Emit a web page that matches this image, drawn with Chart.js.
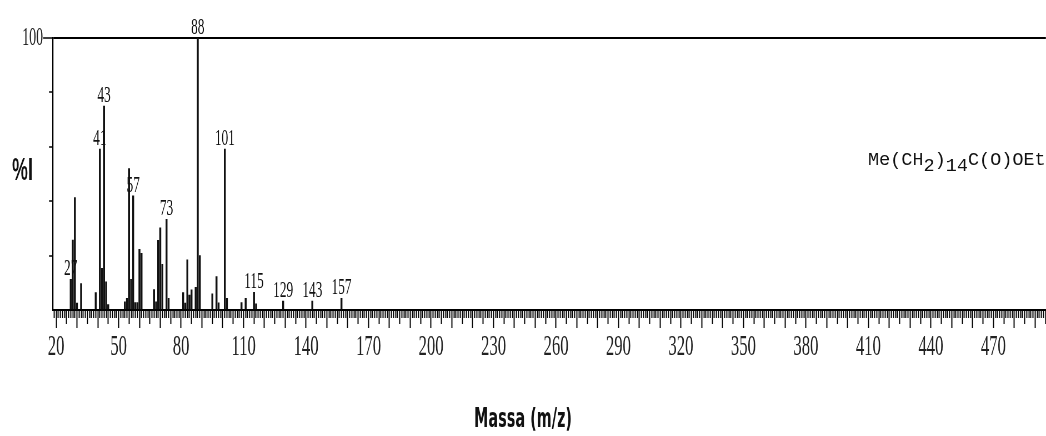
<!DOCTYPE html>
<html lang="pt">
<head>
    <meta charset="UTF-8">
    <title>Espectro de massa</title>
    <script src="https://cdn.jsdelivr.net/npm/chart.js"></script>
    <style>
        body { margin: 0; background: #fff; }
        #spectrum { display: block; }
    </style>
</head>
<body>
    <!-- canvas is drawn wider and squeezed, the scan has narrow fonts -->
    <canvas id="spectrum" width="1883" height="436" style="width:1046px;height:436px"></canvas>

    <script>
        // m/z and relative intensity (%)
        const masses = [27, 28, 29, 30, 32, 39, 41, 42, 43, 44, 45,
                        53, 54, 55, 56, 57, 58, 59, 60, 61,
                        67, 68, 69, 70, 71, 73, 74,
                        81, 82, 83, 84, 85, 87, 88, 89,
                        95, 97, 98, 101, 102, 109, 111, 115, 116,
                        129, 143, 157];
        const intensity = [11.3, 25.7, 41.3, 2.5, 9.7, 6.4, 59.2, 15.3, 75.0, 10.4, 2.0,
                           3.0, 4.3, 52.0, 11.3, 42.0, 2.7, 2.7, 22.3, 20.8,
                           7.5, 3.0, 25.6, 30.2, 16.8, 33.3, 4.3,
                           6.4, 2.5, 18.4, 5.5, 7.4, 8.3, 100, 20.0,
                           5.9, 12.3, 2.6, 59.2, 4.3, 2.7, 4.3, 6.5, 2.3,
                           3.3, 3.3, 4.3];
        const labeledPeaks = [27, 41, 43, 57, 73, 88, 101, 115, 129, 143, 157];
        const formulaParts = [['Me(CH', false], ['2', true], [')', false], ['14', true], ['C(O)OEt', false]];

        const K = 1883 / 1046;   // horizontal squeeze
        const serif = 'Liberation Serif';

        function xTickDash(v) {
            if (v % 10 === 0) return [];
            if (v % 5 === 0) return [13, 100];
            return [7, 100];
        }

        function yTickDash(v) {
            const tl = 18;
            let len = 4 * K;
            if (v === 0) return [0, 100];
            if (v === 100) return [];
            if (v === 50) len = 7 * K;
            return [0, tl - len, len, 100];
        }

        const annotate = {
            id: 'annotate',
            afterDraw(chart) {
                const { ctx, scales: { x, y } } = chart;
                ctx.save();
                ctx.fillStyle = '#111';
                ctx.textAlign = 'center';
                ctx.textBaseline = 'alphabetic';

                // peak labels
                ctx.font = `24px "${serif}"`;
                labeledPeaks.forEach(m => {
                    const v = intensity[masses.indexOf(m)];
                    ctx.fillText(String(m), x.getPixelForValue(m), y.getPixelForValue(v) - 4);
                });

                // y title
                ctx.font = 'bold 32px "Liberation Sans"';
                ctx.fillText('%I', 22.5 * K, 180);

                // compound, unsqueezed
                ctx.translate(868 * K, 165);
                ctx.scale(K, 1);
                ctx.textAlign = 'left';
                ctx.font = '18.5px "Liberation Mono"';
                let cx = 0;
                formulaParts.forEach(([txt, sub]) => {
                    ctx.fillText(txt, cx, sub ? 6 : 0);
                    cx += ctx.measureText(txt).width;
                });
                ctx.restore();
            }
        };

        const ctx = document.getElementById('spectrum').getContext('2d');

        new Chart(ctx, {
            type: 'bar',
            data: {
                datasets: [{
                    data: masses.map((m, i) => ({ x: m, y: intensity[i] })),
                    backgroundColor: '#111',
                    borderWidth: 0,
                    barThickness: 2.8
                }]
            },
            options: {
                responsive: false,
                maintainAspectRatio: false,
                devicePixelRatio: 1,
                animation: false,
                layout: { padding: { top: 38, left: 0, right: 0, bottom: 0 } },
                plugins: {
                    legend: { display: false },
                    tooltip: { enabled: false },
                    title: {
                        display: true,
                        position: 'bottom',
                        text: 'Massa (m/z)',
                        color: '#111',
                        font: { family: 'DejaVu Sans', weight: 'bold', size: 26, lineHeight: 1.2 },
                        padding: { top: 0, bottom: 0 }
                    }
                },
                scales: {
                    x: {
                        type: 'linear',
                        min: 18.5,
                        max: 495.2,
                        offset: false,
                        border: { display: true, color: '#000', width: 2 },
                        grid: {
                            offset: false,
                            drawOnChartArea: false,
                            tickLength: 18,
                            tickColor: '#000',
                            tickWidth: 2,
                            tickBorderDash: c => c.tick ? xTickDash(c.tick.value) : []
                        },
                        ticks: {
                            stepSize: 1,
                            includeBounds: false,
                            autoSkip: false,
                            maxRotation: 0,
                            minRotation: 0,
                            padding: 1,
                            color: '#222',
                            font: { family: serif, size: 30 },
                            callback: v => (v >= 20 && (v - 20) % 30 === 0) ? String(v) : ''
                        },
                        afterFit: s => { s.height = 94.8; }
                    },
                    y: {
                        min: 0,
                        max: 100,
                        border: { display: true, color: '#000', width: 2.2 },
                        grid: {
                            drawOnChartArea: true,
                            color: c => (c.tick && c.tick.value === 100) ? '#000' : 'rgba(0,0,0,0)',
                            lineWidth: 2,
                            tickLength: 18,
                            tickColor: '#000',
                            tickWidth: 1.5,
                            tickBorderDash: c => c.tick ? yTickDash(c.tick.value) : []
                        },
                        ticks: {
                            stepSize: 10,
                            padding: 0,
                            color: '#222',
                            font: { family: serif, size: 25 },
                            callback: v => v === 100 ? '100' : ''
                        },
                        afterFit: s => { s.width = 53 * K; }
                    }
                }
            },
            plugins: [annotate]
        });
    </script>
</body>
</html>
